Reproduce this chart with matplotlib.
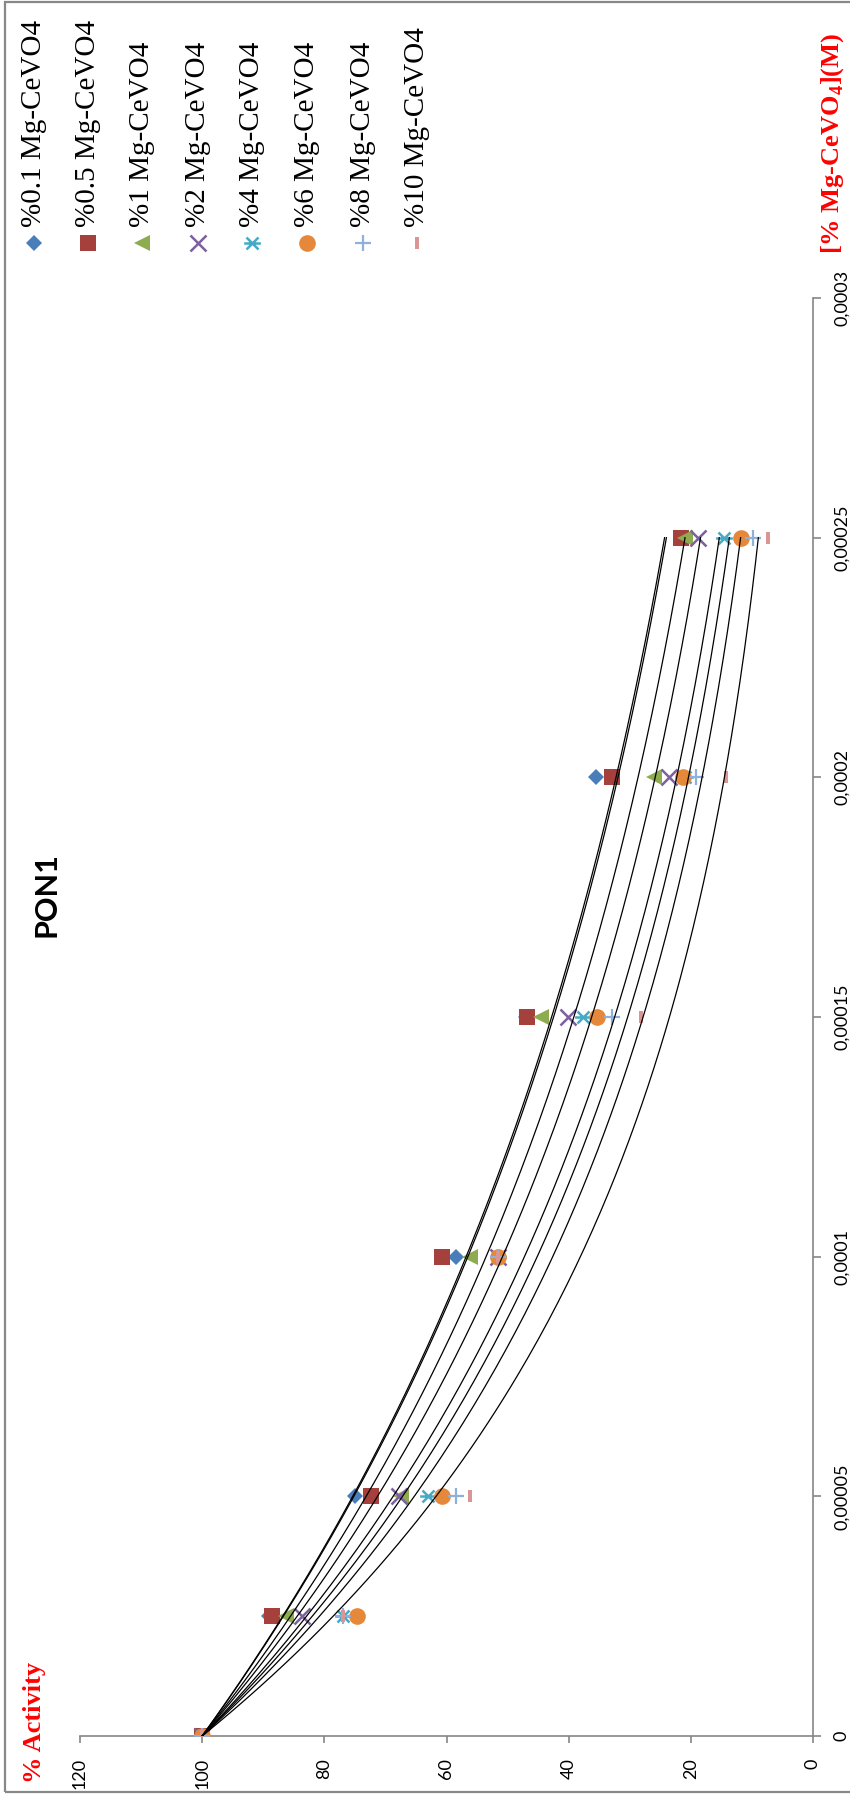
import numpy as np
import matplotlib
matplotlib.use("Agg")
import matplotlib.pyplot as plt
from matplotlib.path import Path
from matplotlib.lines import Line2D
from matplotlib.patches import Rectangle

plt.rcParams['mathtext.fontset'] = 'custom'
plt.rcParams['mathtext.rm'] = 'Liberation Serif:bold'
plt.rcParams['mathtext.bf'] = 'Liberation Serif:bold'

# ---- data: % activity of PON1 vs. Mg-CeVO4 concentration (M) ----
conc = [0, 0.000025, 0.00005, 0.0001, 0.00015, 0.0002, 0.00025]
series_names = ["%0.1 Mg-CeVO4", "%0.5 Mg-CeVO4", "%1 Mg-CeVO4", "%2 Mg-CeVO4",
                "%4 Mg-CeVO4", "%6 Mg-CeVO4", "%8 Mg-CeVO4", "%10 Mg-CeVO4"]
act_01 = [100, 89.0, 75.0, 58.4, 47.0, 35.5, 21.0]
act_05 = [100, 88.6, 72.3, 60.7, 46.8, 32.9, 21.6]
act_1 = [100, 86.2, 67.4, 56.1, 44.5, 26.0, 20.9]
act_2 = [100, 83.7, 67.8, 51.5, 40.1, 23.5, 18.8]
act_4 = [100, 77.0, 63.1, 51.5, 37.6, 21.0, 14.6]
act_6 = [100, 74.7, 60.7, 51.5, 35.3, 21.3, 11.8]
act_8 = [100, 77.0, 58.4, 51.5, 32.9, 19.1, 9.8]
act_10 = [100, 77.0, 56.1, 51.5, 28.1, 14.2, 7.4]
activity_ticks = [0, 20, 40, 60, 80, 100, 120]
conc_ticks = [0, 0.00005, 0.0001, 0.00015, 0.0002, 0.00025, 0.0003]
conc_tick_labels = ["0", "0,00005", "0,0001", "0,00015", "0,0002", "0,00025", "0,0003"]

all_series = [act_01, act_05, act_1, act_2, act_4, act_6, act_8, act_10]

# ---- marker styles ----
star = Path([(-0.5, 0), (0.5, 0), (-0.36, -0.36), (0.36, 0.36), (-0.36, 0.36), (0.36, -0.36)],
            [Path.MOVETO, Path.LINETO] * 3)
dash = Path([(-0.17, -0.5), (0.17, -0.5), (0.17, 0.5), (-0.17, 0.5), (-0.17, -0.5)],
            [Path.MOVETO, Path.LINETO, Path.LINETO, Path.LINETO, Path.CLOSEPOLY])
styles = [
    dict(marker='D', ms=8.5, mfc='#4A7EBB', mec='#4A7EBB', mew=0),
    dict(marker='s', ms=12, mfc='#A5403D', mec='#A5403D', mew=0),
    dict(marker='<', ms=12, mfc='#8EAB4F', mec='#8EAB4F', mew=0),
    dict(marker='x', ms=11, mfc='none', mec='#7D60A0', mew=1.8),
    dict(marker=star, ms=12, mfc='none', mec='#46AAC5', mew=1.8),
    dict(marker='o', ms=12, mfc='#E5883A', mec='#E5883A', mew=0),
    dict(marker='+', ms=12, mfc='none', mec='#8EB0DC', mew=1.6),
    dict(marker=dash, ms=9, mfc='#D99694', mec='#D99694', mew=0),
]

W, H = 850, 1798
fig = plt.figure(figsize=(W / 100, H / 100), dpi=100)


def fx(x):
    return x / W


def fy(y):
    return 1 - y / H


# plot area (layout is turned a quarter turn: activity runs left-right, concentration bottom-top)
ax_left, ax_right, ax_top, ax_bottom = 80, 813, 298, 1736
ax = fig.add_axes([fx(ax_left), fy(ax_bottom), (ax_right - ax_left) / W, (ax_bottom - ax_top) / H])
ax.set_xlim(120, 0)
ax.set_ylim(0, 0.0003)

conc_arr = np.array(conc)
fine = np.linspace(0, 0.00025, 200)
for vals, st in zip(all_series, styles):
    ax.plot(vals, conc, linestyle='none', zorder=3, **st)
    # exponential trendline with intercept fixed at 100 %
    y = np.array(vals, dtype=float)
    mask = conc_arr > 0
    b = np.sum(conc_arr[mask] * np.log(y[mask] / 100)) / np.sum(conc_arr[mask] ** 2)
    ax.plot(100 * np.exp(b * fine), fine, color='black', lw=0.9, zorder=4)

axis_gray = '#868686'
for s in ('left', 'top'):
    ax.spines[s].set_visible(False)
for s in ('bottom', 'right'):
    ax.spines[s].set_color(axis_gray)
    ax.spines[s].set_linewidth(1.2)

ax.set_xticks(activity_ticks)
ax.set_xticklabels([str(t) for t in activity_ticks])
ax.set_yticks(conc_ticks)
ax.set_yticklabels(conc_tick_labels)
ax.yaxis.tick_right()
ax.tick_params(axis='x', direction='out', length=5, width=1.2, color=axis_gray,
               pad=11, labelsize=13, labelrotation=90)
ax.tick_params(axis='y', direction='out', length=6, width=1.2, color=axis_gray,
               pad=9, labelsize=13, labelrotation=90)
for lab in ax.get_xticklabels() + ax.get_yticklabels():
    lab.set_family('Lato')
for lab in ax.get_yticklabels():
    lab.set_va('center')
    lab.set_ha('left')

# title and axis titles
fig.text(fx(47), fy(895), "PON1", rotation=90, ha='center', va='center',
         family='Lato', fontweight='bold', fontsize=22)
fig.text(fx(35), fy(1722), "% Activity", rotation=90, ha='center', va='center',
         family='Liberation Serif', fontweight='bold', fontsize=19, color='red')
fig.text(fx(833), fy(143), r"[% Mg-CeVO$_{4}$](M)", rotation=90, ha='center', va='center',
         family='Liberation Serif', fontweight='bold', fontsize=19, color='red')

# legend, laid out as rotated columns along the top
leg_x = [34, 88, 142, 198, 252, 307, 363, 417]
leg_marker_y = 243
leg_text_y = 227
for name, st, lx in zip(series_names, styles, leg_x):
    fig.add_artist(Line2D([fx(lx)], [fy(leg_marker_y)], transform=fig.transFigure,
                          linestyle='none', **st))
    fig.text(fx(lx), fy(leg_text_y), name, rotation=90, ha='center', va='bottom',
             family='Liberation Serif', fontsize=21)

# chart frame
fig.add_artist(Rectangle((fx(5), fy(1792)), 1.2, fy(2) - fy(1792), transform=fig.transFigure,
                         fill=False, edgecolor='#888888', lw=1.6))

fig.savefig("out.png", dpi=100)
